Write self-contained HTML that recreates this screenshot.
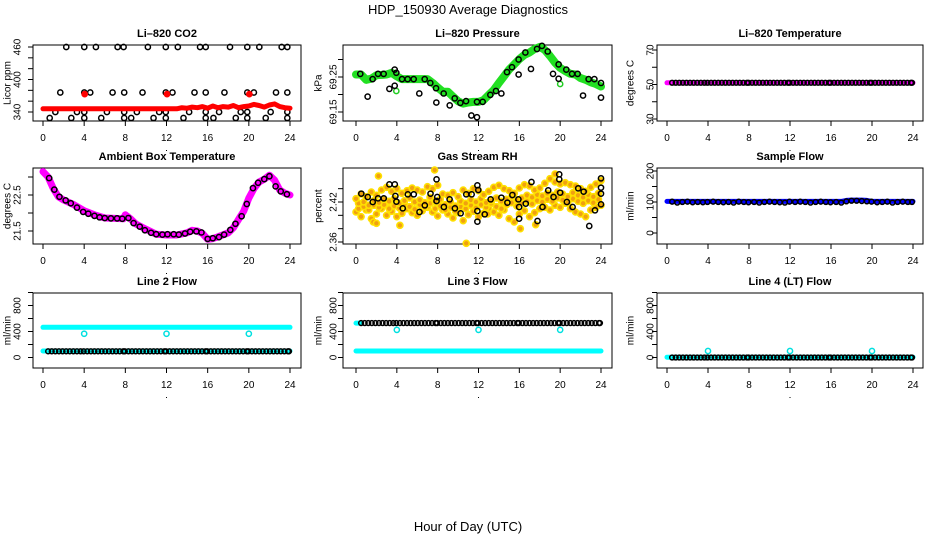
<!DOCTYPE html>
<html><head><meta charset="utf-8"><style>
html,body{margin:0;padding:0;background:#fff;}
svg{display:block;font-family:"Liberation Sans",Arial,sans-serif;}
</style></head>
<body>
<svg id="chart" width="936" height="540" viewBox="0 0 936 540" xmlns="http://www.w3.org/2000/svg">
<text x="468" y="14" text-anchor="middle" font-size="13">HDP_150930  Average Diagnostics</text>
<text x="468" y="531" text-anchor="middle" font-size="13">Hour of Day (UTC)</text>
</svg>
<script>
// ---- data ----
const xTickLabels=[0,4,8,12,16,20,24];
// CO2
const co2RedHours=[0,0.5,1,1.5,2,2.5,3,3.5,4,4.5,5,5.5,6,6.5,7,7.5,8,8.5,9,9.5,10,10.5,11,11.5,12,12.5,13,13.5,14,14.5,15,15.5,16,16.5,17,17.5,18,18.5,19,19.5,20,20.5,21,21.5,22,22.5,23,23.5,24];
const co2RedValues=[346,346,346,346,346,346,346,346,346,346,346,346,346,346,346,346,346,346,346,346,346,346,346,346,346,346,346,348,347,349,348,350,347,351,348,350,349,352,348,350,351,354,352,349,353,355,350,348,347];
const co2RedOutHours=[4.05,12.05,20.05];
const co2RedOutValues=[373,373,373];
const co2BlackHours=[2.26,4.01,5.14,7.25,7.83,10.19,11.93,13.10,15.26,15.81,18.17,19.85,21.02,23.19,23.74,
1.68,4.01,4.59,6.76,7.89,9.67,11.93,12.58,14.72,15.81,17.63,19.85,20.49,22.64,23.74,
1.20,3.30,4.01,6.21,7.89,9.12,11.29,11.93,14.20,15.81,17.11,19.21,19.85,22.12,23.74,
0.65,2.75,4.01,5.66,7.89,8.57,10.74,11.93,13.65,15.81,16.56,18.73,19.85,21.64,23.74];
const co2BlackValues=[460,460,460,460,460,460,460,460,460,460,460,460,460,460,460,
376,376,376,376,376,376,376,376,376,376,376,376,376,376,376,
340,340,340,340,340,340,340,340,340,340,340,340,340,340,340,
329,329,329,329,329,329,329,329,329,329,329,329,329,329,329];
// Pressure
const presHours=[0,0.5,1,1.5,2,3,3.5,4,4.5,5,6,7,7.5,8,8.5,9,9.5,10,10.5,11,11.5,12,12.5,13,13.5,14,14.5,15,15.5,16,16.5,17,17.5,18,18.5,19,19.5,20,20.5,21,21.5,22,22.5,23,23.5,24];
const presValues=[69.257,69.257,69.242,69.245,69.255,69.257,69.262,69.252,69.244,69.244,69.244,69.244,69.233,69.220,69.208,69.208,69.194,69.181,69.174,69.177,69.179,69.179,69.184,69.199,69.213,69.233,69.252,69.271,69.286,69.301,69.313,69.320,69.330,69.336,69.327,69.310,69.291,69.276,69.267,69.259,69.257,69.247,69.242,69.235,69.230,69.223];
const presBlackHours=[0.42,1.14,1.63,2.16,2.71,3.27,3.79,3.79,3.95,4.51,5.06,5.65,6.20,6.73,7.28,7.84,7.87,8.59,9.18,9.67,10.22,10.78,11.30,11.85,11.85,12.41,13.16,13.71,14.24,14.79,15.28,15.93,15.93,16.59,17.14,17.73,18.22,18.78,19.30,19.85,19.85,20.60,21.16,21.71,22.24,22.79,23.35,24.0,24.0];
const presBlackValues=[69.259,69.194,69.244,69.259,69.259,69.216,69.225,69.271,69.262,69.244,69.244,69.244,69.203,69.244,69.233,69.218,69.177,69.203,69.169,69.189,69.176,69.181,69.140,69.135,69.179,69.179,69.199,69.210,69.203,69.264,69.278,69.300,69.257,69.320,69.273,69.330,69.339,69.323,69.259,69.286,69.245,69.271,69.259,69.259,69.197,69.244,69.244,69.233,69.191];
const presGreenOutHours=[3.95,20.0];
const presGreenOutValues=[69.210,69.230];
// Li-820 temperature
const tempHours=[0,24];
const tempValues=[51,51];
const tempBlackHours=[0.5,0.85,1.2,1.55,1.9,2.25,2.6,2.95,3.3,3.65,3.95,4.3,4.65,5.0,5.35,5.7,6.05,6.4,6.75,7.1,7.45,7.8,7.95,8.3,8.65,9.0,9.35,9.7,10.05,10.4,10.75,11.1,11.45,11.8,11.95,12.3,12.65,13.0,13.35,13.7,14.05,14.4,14.75,15.1,15.45,15.8,15.95,16.3,16.65,17.0,17.35,17.7,18.05,18.4,18.75,19.1,19.45,19.8,19.95,20.3,20.65,21.0,21.35,21.7,22.05,22.4,22.75,23.1,23.45,23.8,23.9];
const tempBlackValues=tempBlackHours.map(()=>51);
// Ambient box temperature
const ambHours=[0,0.5,1,1.5,2,3,4,5,6,7,7.8,8,8.5,9,10,11,12,13,14,14.5,15,15.5,16,16.5,17,18,18.5,19,19.5,20,20.5,21,21.5,22,22.5,23,23.5,24];
const ambValues=[23.15,23.0,22.68,22.45,22.36,22.23,22.06,21.95,21.86,21.85,21.84,21.95,21.84,21.70,21.55,21.41,21.39,21.39,21.45,21.52,21.50,21.43,21.27,21.29,21.34,21.45,21.59,21.82,22.05,22.41,22.68,22.86,22.94,23.05,22.91,22.64,22.55,22.50];
const ambBlackHours=[0.6,1.1,1.6,2.2,2.7,3.3,3.9,4.4,5.0,5.5,6.0,6.6,7.2,7.7,8.3,8.8,9.4,9.9,10.5,11.0,11.6,12.1,12.7,13.2,13.8,14.3,14.9,15.4,16.0,16.5,17.1,17.6,18.2,18.7,19.3,19.8,20.4,20.9,21.5,22.0,22.6,23.1,23.7];
const ambBlackValues=[22.97,22.65,22.45,22.35,22.27,22.15,22.03,21.98,21.92,21.88,21.86,21.85,21.85,21.84,21.86,21.72,21.62,21.52,21.45,21.41,21.40,21.41,21.41,21.40,21.43,21.48,21.49,21.46,21.28,21.30,21.33,21.40,21.53,21.70,21.91,22.25,22.69,22.84,22.94,23.02,22.74,22.60,22.52];
// Gas stream RH
const rhUpperHours=[0,0.5,1,1.5,2,2.5,3,3.5,4,4.5,5,5.5,6,6.5,7,7.5,8,8.5,9,9.5,10,10.5,11,11.5,12,12.5,13,13.5,14,14.5,15,15.5,16,16.5,17,17.5,18,18.5,19,19.5,20,20.5,21,21.5,22,22.5,23,23.5,24];
const rhUpperValues=[2.425,2.432,2.428,2.435,2.430,2.438,2.442,2.436,2.440,2.433,2.437,2.441,2.438,2.435,2.443,2.440,2.445,2.432,2.430,2.434,2.428,2.438,2.433,2.440,2.437,2.431,2.436,2.442,2.445,2.440,2.437,2.433,2.441,2.446,2.444,2.438,2.441,2.448,2.455,2.450,2.447,2.449,2.446,2.444,2.440,2.436,2.442,2.447,2.452];
const rhMidHours=[0.25,0.75,1.25,1.75,2.25,2.75,3.25,3.75,4.25,4.75,5.25,5.75,6.25,6.75,7.25,7.75,8.25,8.75,9.25,9.75,10.25,10.75,11.25,11.75,12.25,12.75,13.25,13.75,14.25,14.75,15.25,15.75,16.25,16.75,17.25,17.75,18.25,18.75,19.25,19.75,20.25,20.75,21.25,21.75,22.25,22.75,23.25,23.75];
const rhMidValues=[2.418,2.420,2.415,2.422,2.419,2.424,2.421,2.425,2.418,2.422,2.426,2.420,2.423,2.419,2.427,2.421,2.424,2.416,2.420,2.414,2.421,2.418,2.423,2.420,2.425,2.419,2.422,2.426,2.421,2.424,2.428,2.423,2.426,2.430,2.427,2.431,2.429,2.433,2.430,2.435,2.432,2.428,2.434,2.430,2.427,2.431,2.428,2.433];
const rhMid2Values=[2.410,2.413,2.408,2.415,2.412,2.416,2.410,2.414,2.411,2.417,2.413,2.409,2.416,2.412,2.418,2.410,2.414,2.408,2.412,2.406,2.413,2.410,2.415,2.411,2.416,2.412,2.418,2.413,2.410,2.416,2.419,2.414,2.418,2.421,2.417,2.422,2.420,2.424,2.421,2.426,2.423,2.419,2.425,2.421,2.418,2.422,2.419,2.424];
const rhLowerValues=[2.405,2.398,2.408,2.395,2.402,2.410,2.400,2.406,2.398,2.403,2.410,2.404,2.400,2.407,2.412,2.405,2.399,2.408,2.402,2.396,2.404,2.392,2.401,2.406,2.398,2.403,2.410,2.405,2.400,2.408,2.395,2.390,2.402,2.407,2.398,2.404,2.410,2.412,2.408,2.415,2.412,2.418,2.410,2.405,2.402,2.398,2.408,2.412,2.415];
const rhOutHours=[10.8,7.7,2.2,19.5,4.3,1.7,2.0,16.1,17.6,12.9];
const rhOutValues=[2.358,2.468,2.459,2.462,2.385,2.390,2.388,2.380,2.386,2.402];
const rhBlackHours=[0.52,1.15,1.64,2.16,2.72,3.27,3.80,3.86,3.96,4.58,5.08,5.66,6.22,6.74,7.30,7.89,7.89,7.96,8.61,9.17,9.69,10.25,10.80,11.33,11.89,11.89,11.89,11.98,12.61,13.19,14.24,14.83,15.32,15.91,15.98,15.98,16.63,17.19,17.78,18.27,18.83,19.35,19.91,19.91,20.0,20.66,21.22,21.77,22.30,22.85,23.41,24.0,24.0,24.0,24.0];
const rhBlackValues=[2.4325,2.4275,2.42,2.4255,2.4255,2.4465,2.4465,2.429,2.4205,2.4105,2.4315,2.4315,2.405,2.415,2.4325,2.454,2.4215,2.4275,2.4125,2.424,2.4105,2.403,2.4315,2.4315,2.445,2.4065,2.3905,2.438,2.4015,2.424,2.4265,2.419,2.4305,2.424,2.4125,2.395,2.4175,2.45,2.3915,2.4125,2.4375,2.4275,2.4615,2.454,2.434,2.42,2.4125,2.4405,2.4355,2.384,2.4075,2.4555,2.4415,2.4325,2.4165];
// Sample flow
const sfHours=[0,2,4,6,8,10,12,14,16,17,17.5,18,19,19.5,20,22,24];
const sfValues=[102,102,102,102,102,102,102,102,102,102,105,106,106,105,102,102,102];
const sfBlackHours=[0.5,1.0,1.5,2.0,2.5,3.0,3.5,3.95,4.5,5.0,5.5,6.0,6.5,7.0,7.5,7.95,8.5,9.0,9.5,10.0,10.5,11.0,11.5,11.95,12.5,13.0,13.5,14.0,14.5,15.0,15.5,15.95,16.5,17.0,17.5,18.0,18.5,19.0,19.5,19.95,20.5,21.0,21.5,22.0,22.5,23.0,23.5,23.9];
const sfBlackValues=[101,98,100,101,99,100,99,100,101,100,99,100,98,101,100,99,100,98,100,101,100,99,98,101,100,101,100,98,100,101,100,99,100,98,102,104,104,103,102,101,99,100,101,98,100,101,100,100];
// Line 2 flow
const l2CyanHours=[0,24];
const l2CyanHighValues=[465,465];
const l2CyanLowValues=[100,100];
const l2CyanOutHours=[4,12,20];
const l2CyanOutValues=[365,365,365];
const l2BlackHours=[0.5,0.85,1.2,1.55,1.9,2.25,2.6,2.95,3.3,3.65,3.95,4.3,4.65,5.0,5.35,5.7,6.05,6.4,6.75,7.1,7.45,7.8,7.95,8.3,8.65,9.0,9.35,9.7,10.05,10.4,10.75,11.1,11.45,11.8,11.95,12.3,12.65,13.0,13.35,13.7,14.05,14.4,14.75,15.1,15.45,15.8,15.95,16.3,16.65,17.0,17.35,17.7,18.05,18.4,18.75,19.1,19.45,19.8,19.95,20.3,20.65,21.0,21.35,21.7,22.05,22.4,22.75,23.1,23.45,23.8,23.9];
const l2BlackValues=l2BlackHours.map(()=>95);
// Line 3 flow
const l3CyanHours=[0,24];
const l3CyanLowValues=[100,100];
const l3CyanStartHours=[0,0.4];
const l3CyanStartValues=[530,530];
const l3CyanOutHours=[4,12,20];
const l3CyanOutValues=[425,425,425];
const l3BlackHours=l2BlackHours;
const l3BlackValues=l3BlackHours.map(()=>530);
// Line 4 flow
const l4CyanHours=[0,24];
const l4CyanValues=[5,5];
const l4CyanOutHours=[4,12,20];
const l4CyanOutValues=[100,100,100];
const l4BlackHours=l2BlackHours;
const l4BlackValues=l4BlackHours.map(()=>0);

// ---- layout ----
const NS="http://www.w3.org/2000/svg";
const svg=document.getElementById('chart');
const cols=[{l:33,r:301,x0:43,x24:290,lab:18,tit:8},{l:343,r:612,x0:356,x24:601,lab:334,tit:319},{l:657,r:923,x0:667,x24:913,lab:651,tit:631}];
const rows=[{t:45,b:121},{t:168,b:244},{t:293,b:368}];
function el(tag,attrs,parent){const e=document.createElementNS(NS,tag);for(const k in attrs)e.setAttribute(k,attrs[k]);(parent||svg).appendChild(e);return e;}

function panel(ci,ri,title,ytitle,v1,p1,v2,p2,ticks,labels,name){
  const c=cols[ci],r=rows[ri];
  const g=el('g',{});
  
  
  const xs=h=>c.x0+(c.x24-c.x0)*h/24;
  const ys=v=>p1+(p2-p1)*(v-v1)/(v2-v1);
  const box=el('rect',{x:c.l,y:r.t,width:c.r-c.l,height:r.b-r.t,fill:'none',stroke:'#000','stroke-width':1},g);
  
  
  const t=el('text',{x:(c.l+c.r)/2,y:r.t-8,'text-anchor':'middle','font-size':11,'font-weight':'bold'},g);
  t.textContent=title;
  
  
  const yt=el('text',{x:c.tit,y:(r.t+r.b)/2,'text-anchor':'middle','font-size':10,transform:`rotate(-90 ${c.tit} ${(r.t+r.b)/2})`,'dominant-baseline':'middle'},g);
  yt.textContent=ytitle;
  
  
  const xa=el('g',{},g);
  
  
  el('line',{x1:xs(0),x2:xs(24),y1:r.b,y2:r.b,stroke:'#000'},xa);
  xTickLabels.forEach(h=>{
    el('line',{x1:xs(h),x2:xs(h),y1:r.b,y2:r.b+5,stroke:'#000'},xa);
    const tl=el('text',{x:xs(h),y:r.b+20,'text-anchor':'middle','font-size':10},xa);
    tl.textContent=h;
    
    
  });
  el('rect',{x:xs(12)-0.5,y:r.b+29,width:1,height:1,fill:'#000'},xa);
  const ya=el('g',{},g);
  
  
  el('line',{x1:c.l,x2:c.l,y1:ys(ticks[0]),y2:ys(ticks[ticks.length-1]),stroke:'#000'},ya);
  ticks.forEach(v=>{el('line',{x1:c.l-5,x2:c.l,y1:ys(v),y2:ys(v),stroke:'#000'},ya);});
  labels.forEach(v=>{
    const yy=ys(v);
    const tl=el('text',{x:c.lab,y:yy,'text-anchor':'middle','font-size':10,transform:`rotate(-90 ${c.lab} ${yy})`,'dominant-baseline':'middle'},ya);
    tl.textContent=String(v);
    
    
  });
  return {g,xs,ys};
}
function band(p,hours,vals,color,w,name){
  const d=hours.map((h,i)=>(i?'L':'M')+p.xs(h).toFixed(1)+' '+p.ys(vals[i]).toFixed(1)).join(' ');
  const e=el('path',{d,fill:'none',stroke:color,'stroke-width':w,'stroke-linejoin':'round','stroke-linecap':'round'},p.g);
  
  
}
function pts(p,hours,vals,color,name,rr,fill,sw){
  const g=el('g',{},p.g);
  
  
  hours.forEach((h,i)=>{
    const c=el('circle',{cx:p.xs(h),cy:p.ys(vals[i]),r:rr||2.6,fill:fill||'none',stroke:color,'stroke-width':sw||1.5},g);
    
    
  });
}

// Li-820 CO2
let p=panel(0,0,'Li\u2013820 CO2','Licor ppm',340,112,460,47,[340,360,380,400,420,440,460],[340,400,460],'co2');
pts(p,co2BlackHours,co2BlackValues,'#000','co2-black-series');
band(p,co2RedHours,co2RedValues,'#ff0000',5,'co2-red-band');
pts(p,co2RedOutHours,co2RedOutValues,'#ff0000','co2-red-outliers',2.6,'#ff0000');

// Pressure
p=panel(1,0,'Li\u2013820 Pressure','kPa',69.15,112,69.25,77,[69.15,69.20,69.25,69.30],[69.15,69.25],'pressure');
band(p,presHours,presValues,'#22e022',8,'pressure-green-band');
pts(p,presGreenOutHours,presGreenOutValues,'#22cc22','pressure-green-outliers');
pts(p,presBlackHours,presBlackValues,'#000','pressure-black-series');

// Li-820 Temp
p=panel(2,0,'Li\u2013820 Temperature','degrees C',30,119,70,50,[30,40,50,60,70],[30,50,70],'li820-temp');
band(p,tempHours,tempValues,'#ff00ff',5,'li820-temp-magenta-band');
pts(p,tempBlackHours,tempBlackValues,'#000','li820-temp-black-series',2.4);

// Ambient
p=panel(0,1,'Ambient Box Temperature','degrees C',21.5,231,22.5,195,[21.5,22.0,22.5,23.0],[21.5,22.5],'ambient');
band(p,ambHours,ambValues,'#ff00ff',7,'ambient-magenta-band');
pts(p,ambBlackHours,ambBlackValues,'#000','ambient-black-series');

// RH
p=panel(1,1,'Gas Stream RH','percent',2.36,242,2.42,202,[2.36,2.38,2.40,2.42,2.44],[2.36,2.42],'rh');
pts(p,rhUpperHours,rhLowerValues,'#ffe000','rh-yellow-lower',3,'#f0a010',1.6);
pts(p,rhMidHours,rhMid2Values,'#ffe000','rh-yellow-mid2',3,'#f0a010',1.6);
pts(p,rhMidHours,rhMidValues,'#ffe000','rh-yellow-mid',3,'#f0a010',1.6);
pts(p,rhUpperHours,rhUpperValues,'#ffe000','rh-yellow-upper',3,'#f0a010',1.6);
pts(p,rhOutHours,rhOutValues,'#ffe000','rh-yellow-outliers',3,'#f0a010',1.6);
pts(p,rhBlackHours,rhBlackValues,'#000','rh-black-series');

// Sample flow
p=panel(2,1,'Sample Flow','ml/min',0,233,200,171,[0,50,100,150,200],[0,100,200],'sample-flow');
band(p,sfHours,sfValues,'#0000ff',5,'sample-flow-blue-band');
pts(p,sfBlackHours,sfBlackValues,'#000','sample-flow-black-series',2.4);

// Line 2
p=panel(0,2,'Line 2 Flow','ml/min',0,357.5,800,305.5,[0,200,400,600,800,1000],[0,400,800],'line2');
band(p,l2CyanHours,l2CyanHighValues,'#00ffff',5,'line2-cyan-high-band');
band(p,l2CyanHours,l2CyanLowValues,'#00ffff',5,'line2-cyan-low-band');
pts(p,l2CyanOutHours,l2CyanOutValues,'#00e0e0','line2-cyan-outliers');
pts(p,l2BlackHours,l2BlackValues,'#000','line2-black-series',2.4);

// Line 3
p=panel(1,2,'Line 3 Flow','ml/min',0,357.5,800,305.5,[0,200,400,600,800,1000],[0,400,800],'line3');
band(p,l3CyanHours,l3CyanLowValues,'#00ffff',5,'line3-cyan-low-band');
band(p,l3CyanStartHours,l3CyanStartValues,'#00ffff',5,'line3-cyan-start');
pts(p,l3CyanOutHours,l3CyanOutValues,'#00e0e0','line3-cyan-outliers');
pts(p,l3BlackHours,l3BlackValues,'#000','line3-black-series',2.4);

// Line 4
p=panel(2,2,'Line 4 (LT) Flow','ml/min',0,357.5,800,305.5,[0,200,400,600,800,1000],[0,400,800],'line4');
band(p,l4CyanHours,l4CyanValues,'#00ffff',5,'line4-cyan-band');
pts(p,l4CyanOutHours,l4CyanOutValues,'#00e0e0','line4-cyan-outliers');
pts(p,l4BlackHours,l4BlackValues,'#000','line4-black-series',2.4);
</script>
</body></html>
